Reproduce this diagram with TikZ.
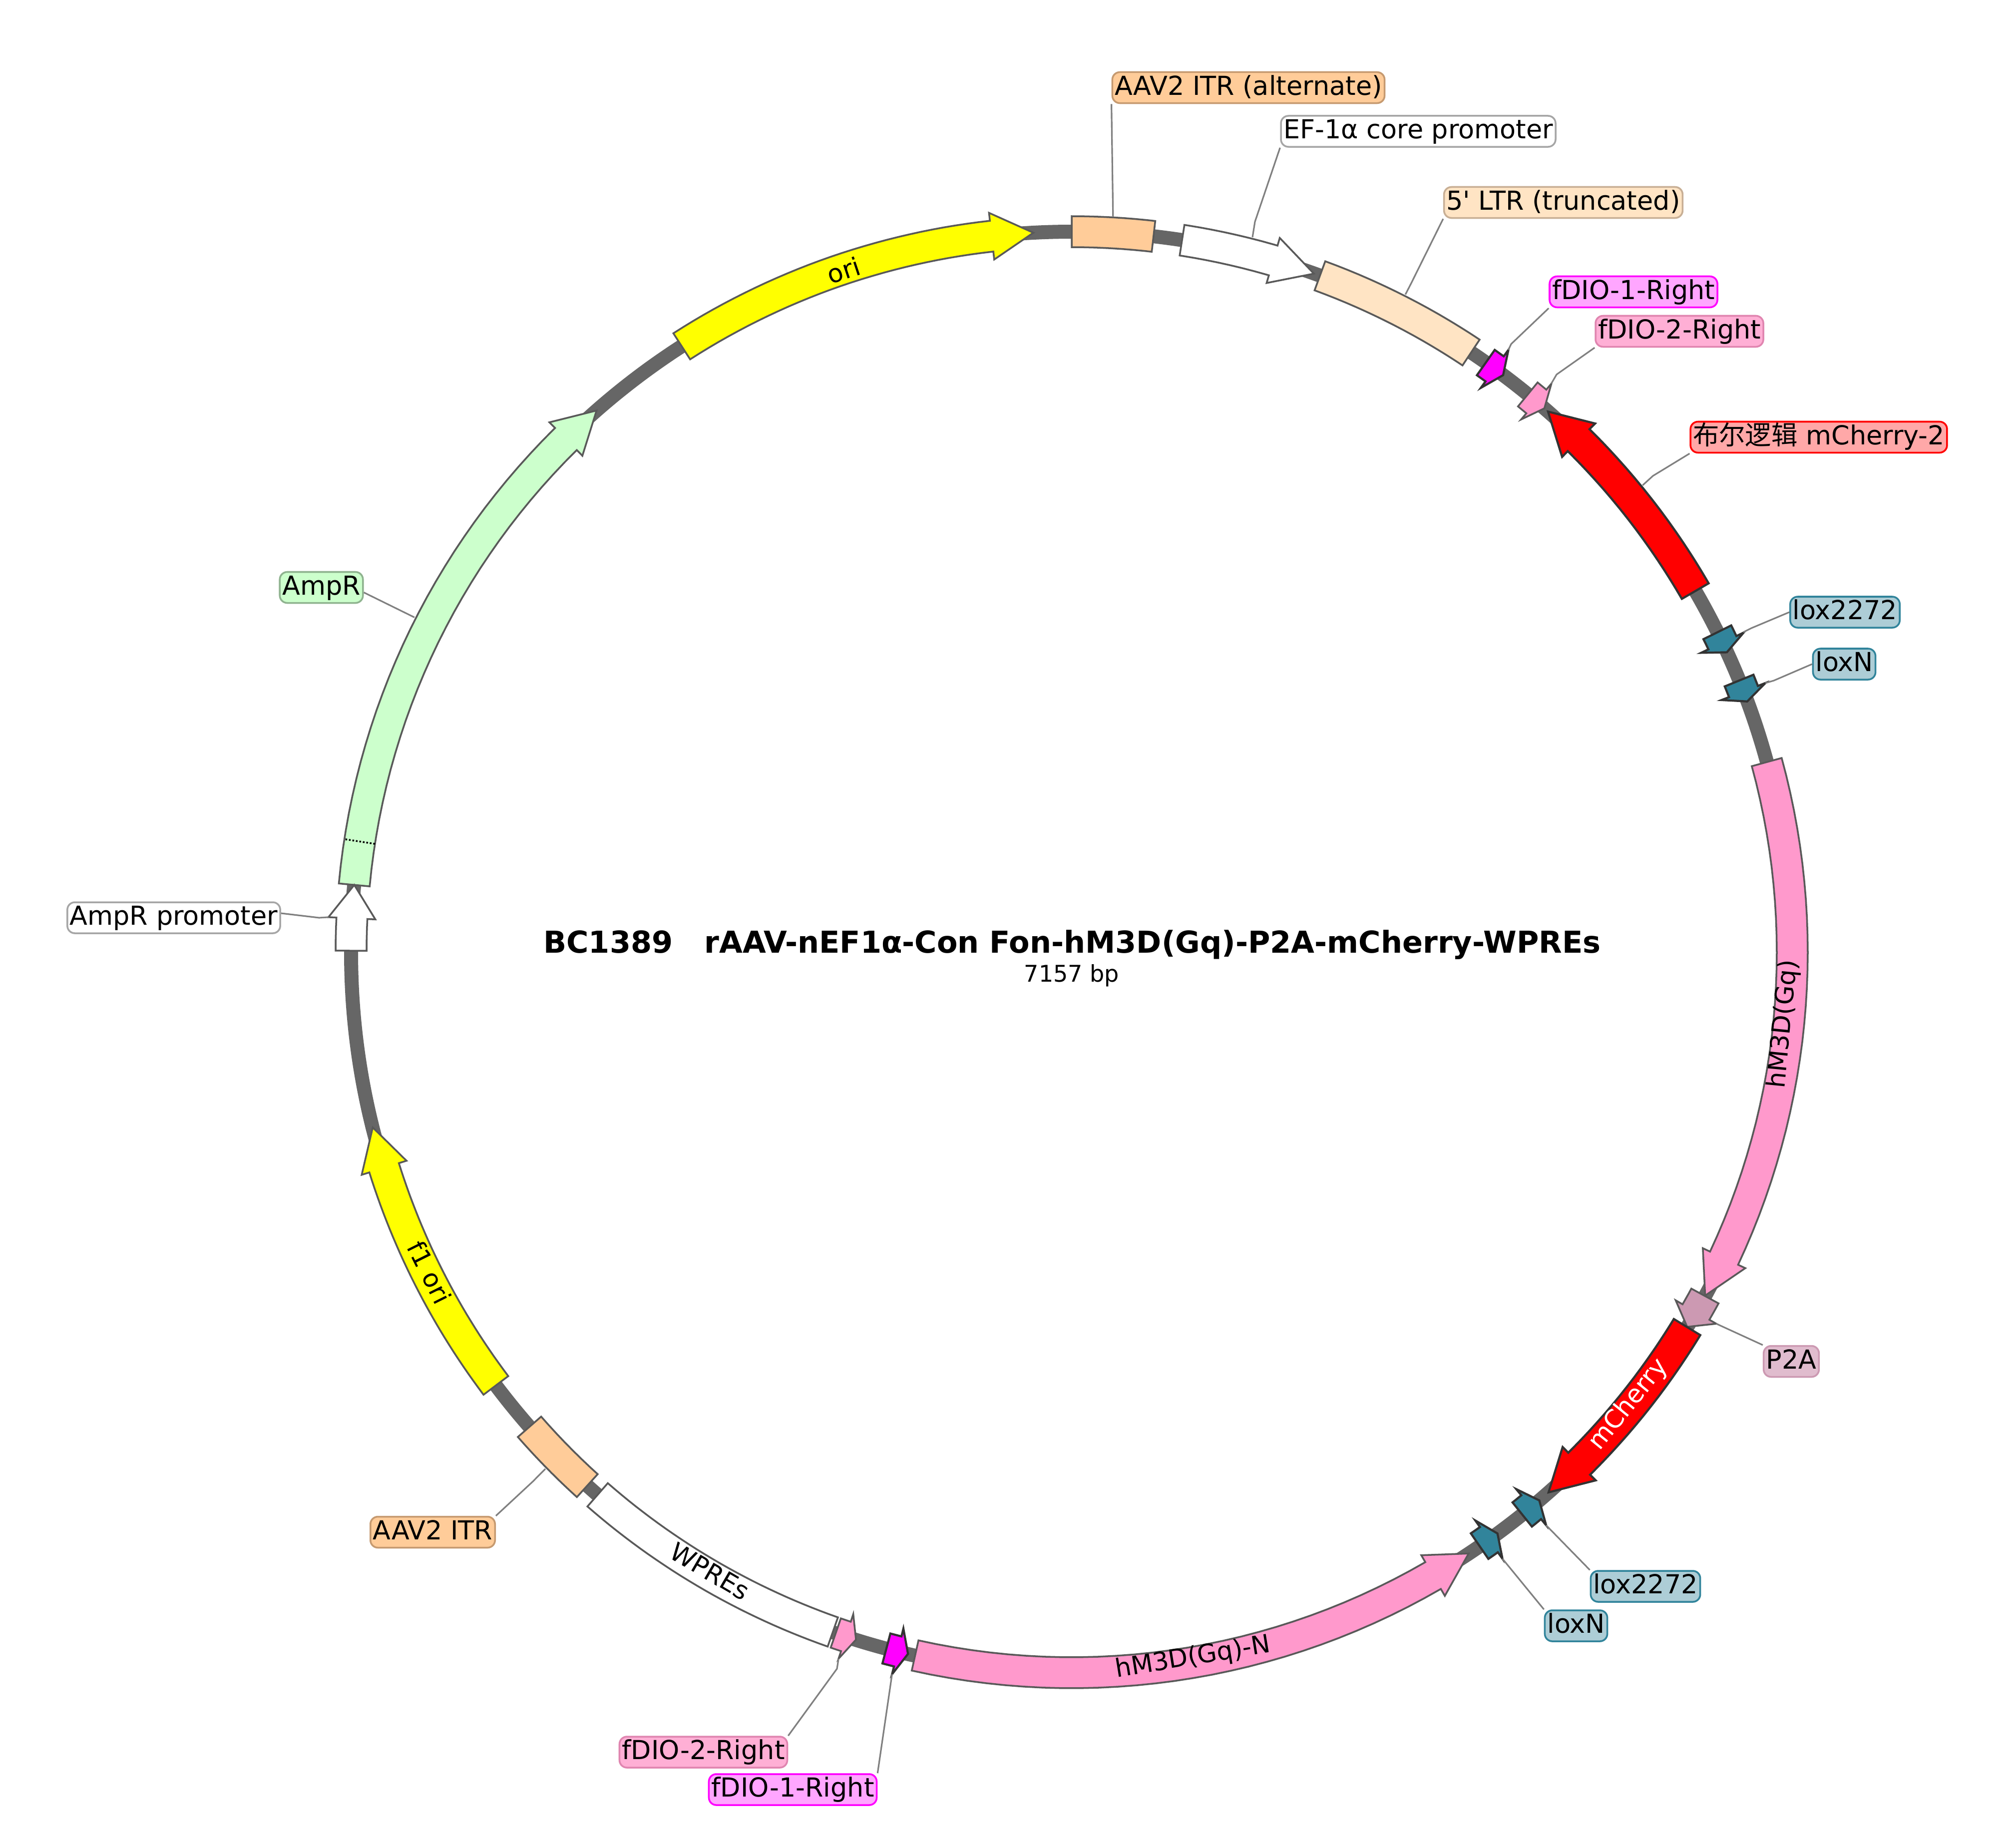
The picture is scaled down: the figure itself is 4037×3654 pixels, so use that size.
\documentclass[tikz,border=0pt]{standalone}
\usepackage{fontspec}
\setmainfont{DejaVu Sans}
\newfontfamily\cjk{Noto Sans CJK SC}
\definecolor{plasyellow}{HTML}{FFFF00}
\definecolor{plasmagenta}{HTML}{FF00FF}
\definecolor{plasred}{HTML}{FF0000}
\definecolor{itrfill}{HTML}{FFCC99}
\definecolor{itrline}{HTML}{C69A70}
\definecolor{ltrfill}{HTML}{FFE4C4}
\definecolor{ltrline}{HTML}{C8AF95}
\definecolor{fdiopink}{HTML}{FF99CC}
\definecolor{pinkfill}{HTML}{FFAFD5}
\definecolor{pinkline}{HTML}{E085B0}
\definecolor{magfill}{HTML}{FFA6FF}
\definecolor{redfill}{HTML}{FFA8A8}
\definecolor{loxteal}{HTML}{31849B}
\definecolor{loxfill}{HTML}{ADCDD6}
\definecolor{ptwoa}{HTML}{CC99B2}
\definecolor{ptwofill}{HTML}{E0BCCE}
\definecolor{ampfill}{HTML}{CCFFCC}
\definecolor{ampline}{HTML}{8FB38F}
\tikzset{
    backbone/.style={draw=black!60,line width=.28cm},
    feature/.style={draw=black!65,line width=1pt},
    darkfeature/.style={draw=black!80,line width=1.2pt},
    tag/.style={draw,rounded corners=.15cm,line width=1pt,font=\fontsize{14.9}{16}\selectfont,
        inner xsep=.05cm,inner ysep=0pt,minimum height=.62cm,text height=.39cm,text depth=.1cm},
    featname/.style={font=\fontsize{14.4}{16}\selectfont,inner sep=0pt},
    leader/.style={draw=black!50,line width=.9pt},
}
\newcommand{\featbox}[3]{
    \draw[feature,fill=#3] plot[domain=#1:#2,samples=30] (\x:1474)
        -- plot[domain=#2:#1,samples=30] (\x:1412) -- cycle;
}
\newcommand{\featarrow}[4]{
    \pgfmathsetmacro{\neck}{#2-#3}
    \draw[#4] plot[domain=#1:\neck,samples=30] (\x:1474) -- (\neck:1490) -- (#2:1443)
        -- (\neck:1396) -- plot[domain=\neck:#1,samples=30] (\x:1412) -- cycle;
}
\begin{document}
\begin{tikzpicture}[x=.01cm,y=-.01cm]
    \useasboundingbox (0,0) rectangle (4037,3654);
    \begin{scope}[shift={(2146,1907)}]
    \draw[backbone] (0,0) circle (1443);
    \featarrow{185.36}{228.75}{3.33}{feature,fill=ampfill}
    \draw[densely dotted,line width=1pt] (188.84:1412) -- (188.84:1474);
    \featarrow{180.12}{185.36}{2.66}{feature,fill=white}
    \featarrow{237.24}{266.95}{3.33}{feature,fill=plasyellow}
    \featbox{270}{276.52}{itrfill}
    \featarrow{278.81}{289.64}{3.4}{feature,fill=white}
    \featbox{290.15}{303.66}{ltrfill}
    \featarrow{305.08}{306.78}{.84}{darkfeature,fill=plasmagenta}
    \featarrow{309.27}{310.99}{.84}{feature,fill=fdiopink}
    \featarrow{329.92}{311.38}{-3.33}{darkfeature,fill=plasred}
    \featarrow{333.64}{335.40}{.84}{darkfeature,fill=loxteal}
    \featarrow{337.85}{339.63}{.84}{darkfeature,fill=loxteal}
    \featarrow{344.7}{388.46}{3.33}{feature,fill=fdiopink}
    \featarrow{388.5}{391.33}{1.37}{feature,fill=ptwoa}
    \featarrow{391.35}{408.56}{3.33}{darkfeature,fill=plasred}
    \featarrow{411.3}{409.54}{-.84}{darkfeature,fill=loxteal}
    \featarrow{415.52}{413.78}{-.84}{darkfeature,fill=loxteal}
    \featarrow{462.55}{416.57}{-3.33}{feature,fill=fdiopink}
    \featarrow{464.9}{463.13}{-.84}{darkfeature,fill=plasmagenta}
    \featarrow{469.11}{467.42}{-.84}{feature,fill=fdiopink}
    \featbox{469.36}{491.14}{white}
    \featbox{492.24}{498.8}{itrfill}
    \featarrow{503.04}{525.92}{3.33}{feature,fill=plasyellow}
    \node[featname,rotate=18.5] (oriname) at (251.5:1440) {ori};
    \node[featname,rotate=-63.5] (fonename) at (153.5:1437) {f1 ori};
    \node[featname,rotate=84.4] (gqname) at (5.77:1433) {hM3D(Gq)};
    \node[featname,rotate=50.9,text=white] (cherryname) at (39.1:1437) {mCherry};
    \node[featname,rotate=9.2] (gqnname) at (80.24:1434) {hM3D(Gq)-N};
    \node[featname,rotate=-30.3] (wprename) at (120.3:1436) {WPREs};
    \coordinate (itraltend) at (273.22:1475);
    \coordinate (efend) at (284.19:1477);
    \coordinate (ltrend) at (296.9:1477);
    \coordinate (fdioaend) at (305.94:1490);
    \coordinate (fdiobend) at (310.14:1490);
    \coordinate (redend) at (320.72:1477);
    \coordinate (loxaend) at (334.52:1490);
    \coordinate (loxbend) at (338.79:1490);
    \coordinate (ptwoend) at (389.96:1490);
    \coordinate (loxcend) at (410.38:1490);
    \coordinate (loxdend) at (414.62:1490);
    \coordinate (fdiocend) at (468.26:1490);
    \coordinate (fdiodend) at (463.97:1490);
    \coordinate (itrend) at (135.53:1477);
    \coordinate (promend) at (182.7:1490);
    \coordinate (ampend) at (207:1477);
    \end{scope}
    \node[tag,draw=itrline,fill=itrfill] (itraltlab) at (2500,175.5) {AAV2 ITR (alternate)};
    \node[tag,draw=black!35,fill=white] (eflab) at (2840,263) {EF-1α core promoter};
    \node[tag,draw=ltrline,fill=ltrfill] (ltrlab) at (3130.5,405.5) {5\textquotesingle{} LTR (truncated)};
    \node[tag,draw=plasmagenta,fill=magfill] (fdioalab) at (3271,584.5) {fDIO-1-Right};
    \node[tag,draw=pinkline,fill=pinkfill] (fdioblab) at (3363,663.5) {fDIO-2-Right};
    \node[tag,draw=plasred,fill=redfill] (redlab) at (3642,875.5) {{\cjk 布尔逻辑} mCherry-2};
    \node[tag,draw=loxteal,fill=loxfill] (loxalab) at (3694.5,1226) {lox2272};
    \node[tag,draw=loxteal,fill=loxfill] (loxblab) at (3693,1330) {loxN};
    \node[tag,draw=ptwoa,fill=ptwofill] (ptwolab) at (3587,2726.5) {P2A};
    \node[tag,draw=loxteal,fill=loxfill] (loxclab) at (3295,3177) {lox2272};
    \node[tag,draw=loxteal,fill=loxfill] (loxdlab) at (3156,3256) {loxN};
    \node[tag,draw=pinkline,fill=pinkfill] (fdioclab) at (1408.5,3509) {fDIO-2-Right};
    \node[tag,draw=plasmagenta,fill=magfill] (fdiodlab) at (1587.5,3584) {fDIO-1-Right};
    \node[tag,draw=itrline,fill=itrfill] (itrlab) at (866.5,3068.5) {AAV2 ITR};
    \node[tag,draw=black!35,fill=white] (promlab) at (348,1838) {AmpR promoter};
    \node[tag,draw=ampline,fill=ampfill] (amplab) at (643.5,1176.5) {AmpR};
    \node[font=\bfseries\fontsize{17.2}{19}\selectfont,inner sep=0pt,anchor=base] (titlelab) at (2147,1908) {BC1389~~~rAAV-nEF1α-Con Fon-hM3D(Gq)-P2A-mCherry-WPREs};
    \node[font=\fontsize{13.1}{15}\selectfont,inner sep=0pt,anchor=base] (sizelab) at (2146,1966) {7157 bp};
    \draw[leader] (itraltlab.south west) -- (itraltend);
    \draw[leader] (eflab.south west) -- (2513,444) -- (efend);
    \draw[leader] (ltrlab.south west) -- (2826,567) -- (ltrend);
    \draw[leader] (fdioalab.south west) -- (3026,689) -- (fdioaend);
    \draw[leader] (fdioblab.south west) -- (3117,750) -- (fdiobend);
    \draw[leader] (redlab.south west) -- (3310,953) -- (redend);
    \draw[leader] (loxalab.west) -- (3507,1258) -- (loxaend);
    \draw[leader] (loxblab.west) -- (3552,1363) -- (loxbend);
    \draw[leader] (ptwolab.north west) -- (ptwoend);
    \draw[leader] (loxclab.north west) -- (loxcend);
    \draw[leader] (loxdlab.north west) -- (loxdend);
    \draw[leader] (fdioclab.north east) -- (1676,3342) -- (fdiocend);
    \draw[leader] (fdiodlab.north east) -- (fdiodend);
    \draw[leader] (itrlab.north east) -- (1067,2967) -- (itrend);
    \draw[leader] ([yshift=.09cm]promlab.east) -- (639,1838) -- (promend);
    \draw[leader] ([yshift=-.1cm]amplab.east) -- (ampend);
\end{tikzpicture}
\end{document}
